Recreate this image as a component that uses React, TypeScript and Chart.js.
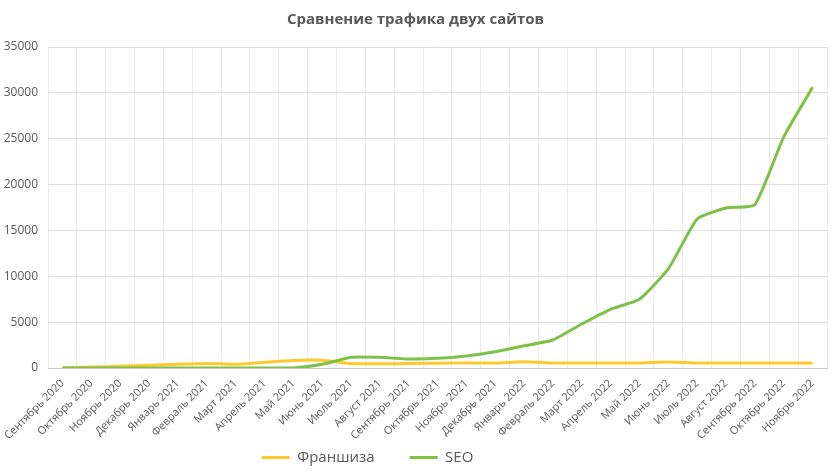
import React, { useEffect, useRef } from "react";
import { Chart, registerables } from "chart.js";

Chart.register(...registerables);

const categories = [
  "Сентябрь 2020", "Октябрь 2020", "Ноябрь 2020", "Декабрь 2020",
  "Январь 2021", "Февраль 2021", "Март 2021", "Апрель 2021", "Май 2021",
  "Июнь 2021", "Июль 2021", "Август 2021", "Сентябрь 2021", "Октябрь 2021",
  "Ноябрь 2021", "Декабрь 2021", "Январь 2022", "Февраль 2022", "Март 2022",
  "Апрель 2022", "Май 2022", "Июнь 2022", "Июль 2022", "Август 2022",
  "Сентябрь 2022", "Октябрь 2022", "Ноябрь 2022",
];

const franchiseValues = [
  0, 100, 200, 300, 400, 500, 420, 620, 820, 840, 480, 470, 480, 530,
  540, 540, 680, 550, 540, 540, 540, 650, 540, 540, 540, 540, 540,
];

const seoValues = [
  0, 0, 0, 0, 0, 0, 0, 0, 0, 400, 1160, 1160, 980, 1050,
  1320, 1780, 2420, 3050, 4800, 6400, 7500, 10800, 16250, 17450,
  17800, 25200, 30600,
];

const seriesNames = ["Франшиза", "SEO"];
const titleText = "Сравнение трафика двух сайтов";

const legendShift = {
  id: "legendShift",
  afterLayout(chart: any) {
    const lg = chart.legend;
    if (lg) {
      lg.left -= 48;
      lg.right -= 48;
    }
  },
};

export default function App() {
  const ref = useRef<HTMLCanvasElement>(null);
  useEffect(() => {
    if (!ref.current) return;
    const font = "'Open Sans', sans-serif";
    const chart = new Chart(ref.current, {
      type: "line",
      data: {
        labels: categories,
        datasets: [
          {
            label: seriesNames[0],
            data: franchiseValues,
            borderColor: "#FFC92E",
            backgroundColor: "#FFC92E",
            borderWidth: 3,
            pointRadius: 0,
            tension: 0.25,
            order: 1,
          },
          {
            label: seriesNames[1],
            data: seoValues,
            borderColor: "#7DC246",
            backgroundColor: "#7DC246",
            borderWidth: 3,
            pointRadius: 0,
            tension: 0.15,
            order: 0,
          },
        ],
      },
      plugins: [legendShift],
      options: {
        animation: false,
        responsive: false,
        maintainAspectRatio: false,
        layout: { padding: { left: 4, right: 8, top: 8, bottom: 0 } },
        plugins: {
          title: {
            display: true,
            text: titleText,
            color: "#595959",
            font: { family: font, size: 15, weight: "bold" },
            padding: { top: 3, bottom: 18 },
          },
          legend: {
            position: "bottom",
            labels: {
              usePointStyle: true,
              pointStyle: "line",
              pointStyleWidth: 28,
              color: "#595959",
              font: { family: font, size: 15 },
              padding: 35,
              sort: (a: any, b: any) => a.datasetIndex - b.datasetIndex,
            },
          },
          tooltip: { enabled: false },
        },
        scales: {
          x: {
            offset: true,
            grid: {
              offset: true,
              color: "#ebebeb",
              drawTicks: false,
              tickLength: 0,
            },
            border: { color: "#c8c8c8" },
            ticks: {
              color: "#595959",
              font: { family: font, size: 11 },
              minRotation: 45,
              maxRotation: 45,
              autoSkip: false,
              padding: 9,
            },
            afterFit: (scale: any) => {
              scale.height = 47;
              scale.paddingLeft = 0;
              scale.paddingRight = 0;
              scale._computeLabelArea = () => undefined;
            },
          },
          y: {
            min: 0,
            max: 35000,
            grid: { color: "#dedede", drawTicks: false, tickLength: 0 },
            border: { display: false },
            ticks: {
              stepSize: 5000,
              color: "#595959",
              font: { family: font, size: 12 },
              padding: 10,
              callback: (v: any) => String(v),
            },
            afterFit: (scale: any) => {
              scale.width = 44;
            },
          },
        },
      },
    });
    return () => chart.destroy();
  }, []);
  return (
    <div style={{ position: "fixed", left: 0, top: 0, width: 835, height: 475, background: "#fff" }}>
      <canvas ref={ref} width={835} height={475} style={{ width: 835, height: 475 }} />
    </div>
  );
}
